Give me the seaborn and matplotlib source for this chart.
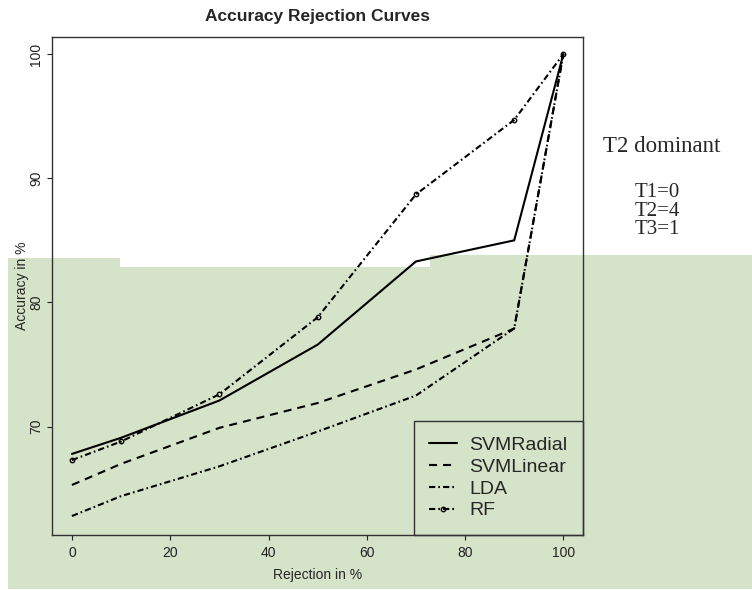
import numpy as np
import pandas as pd
import seaborn as sns
import matplotlib.pyplot as plt
from matplotlib.patches import Rectangle
from matplotlib.lines import Line2D

# values
rejection = [0, 10, 30, 50, 70, 90, 100]
svm_radial = [67.8, 69.1, 72.1, 76.6, 83.3, 85.0, 100.0]
svm_linear = [65.3, 67.0, 69.9, 71.9, 74.6, 77.9, 100.0]
lda = [62.8, 64.4, 66.8, 69.6, 72.5, 77.9, 100.0]
rf = [67.3, 68.8, 72.6, 78.8, 88.7, 94.7, 100.0]
names = ['SVMRadial', 'SVMLinear', 'LDA', 'RF']
x_ticks = [0, 20, 40, 60, 80, 100]
y_ticks = [70, 80, 90, 100]
note_title = 'T2 dominant'
thresholds = ['T1=0', 'T2=4', 'T3=1']

sns.set_style('ticks')
plt.rcParams['font.family'] = ['Liberation Sans', 'DejaVu Sans']
plt.rcParams['lines.scale_dashes'] = False

W, H = 752, 590
fig = plt.figure(figsize=(W / 100, H / 100), dpi=100)
fig.patch.set_facecolor('white')

# green band pasted behind the lower half of the slide
green = '#d5e3c8'
for x0, x1, top in [(8, 120, 258), (120, 430, 266.5), (430, 752, 255)]:
    fig.patches.append(Rectangle((x0 / W, 1 - 589 / H), (x1 - x0) / W, (589 - top) / H,
                                 transform=fig.transFigure, facecolor=green,
                                 edgecolor='none', zorder=-10))

ax = fig.add_axes([52.3 / W, 1 - 535 / H, (583 - 52.3) / W, (535 - 36.7) / H])
ax.patch.set_visible(False)

dash = (0, (5.8, 4.3))
dotdash = (0, (4.5, 2.2, 1.2, 2.2))
styles = {
    'SVMRadial': dict(linestyle='-'),
    'SVMLinear': dict(linestyle=dash),
    'LDA': dict(linestyle=dotdash),
    'RF': dict(linestyle=dotdash, marker='o', markersize=3.2,
               markerfacecolor='none', markeredgecolor='black', markeredgewidth=1.0),
}
series = {'SVMRadial': svm_radial, 'SVMLinear': svm_linear, 'LDA': lda, 'RF': rf}

for name in names:
    sns.lineplot(x=rejection, y=series[name], ax=ax, color='black', linewidth=1.5,
                 **styles[name])

ax.set_xlim(-4, 104)
ax.set_ylim(61.27, 101.4)
ax.set_xticks(x_ticks)
ax.set_yticks(y_ticks)
ax.set_yticklabels([str(v) for v in y_ticks], rotation=90, va='center')
ax.tick_params(direction='out', length=3.6, width=0.8, labelsize=10, colors='#222222')
ax.tick_params(axis='x', pad=4)
ax.tick_params(axis='y', pad=3)
for sp in ax.spines.values():
    sp.set_visible(True)
    sp.set_color('#333333')
    sp.set_linewidth(1.0)

ax.set_xlabel('Rejection in %', fontsize=10, labelpad=6)
ax.set_ylabel('Accuracy in %', fontsize=10, labelpad=0)
ax.set_title('Accuracy Rejection Curves', fontweight='bold', fontsize=12.5, pad=11)

handles = [Line2D([], [], color='black', linewidth=1.5, **styles[n]) for n in names]
leg = ax.legend(handles, names, loc='lower right', borderaxespad=0, fancybox=False,
                facecolor='none', edgecolor='#333333', framealpha=1, fontsize=14,
                handlelength=1.4, handletextpad=0.65, labelspacing=0.215,
                borderpad=0.8)
leg.get_frame().set_linewidth(1.0)

fig.text(603 / W, 1 - 151.7 / H, note_title, family=['Liberation Serif'], size=16.5,
         va='baseline')
for t, yb in zip(thresholds, [197.3, 215.7, 234.3]):
    fig.text(635 / W, 1 - yb / H, t, family=['Liberation Serif'], size=15, va='baseline')

fig.savefig('out.png', dpi=100)
